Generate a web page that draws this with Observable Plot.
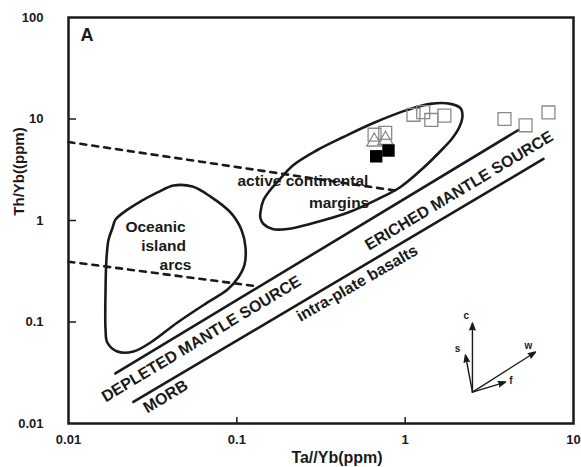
<!DOCTYPE html>
<html><head><meta charset="utf-8">
<script src="https://cdn.jsdelivr.net/npm/d3@7"></script>
<script src="https://cdn.jsdelivr.net/npm/@observablehq/plot@0.6"></script>
<style>
body{margin:0;background:#fff;}
#chart{width:581px;height:467px;}
svg{font-family:Arial,"Liberation Sans",sans-serif;}
</style></head><body><div id="chart"></div>
<script>
// Axis ticks
const xTicks = [0.01, 0.1, 1, 10];
const yTicks = [0.01, 0.1, 1, 10, 100];
const xInnerTicks = [0.1, 1];
const yInnerTicks = [0.1, 1, 10];

// Oceanic island arcs field
const oceanicX = [0.0166,0.0166,0.0168,0.0173,0.0183,0.0190,0.0224,0.0268,0.0338,0.0421,0.0545,0.0698,0.0917,0.1066,0.1126,0.111,0.102,0.0881,0.0670,0.0444,0.0307,0.0243,0.0195,0.0170];
const oceanicY = [0.0843,0.209,0.413,0.650,0.853,1.02,1.28,1.54,1.89,2.21,2.16,1.72,1.20,0.806,0.542,0.365,0.274,0.209,0.156,0.0989,0.0628,0.0512,0.0512,0.0628];

// Active continental margins field
const ellipseX = [0.138,0.144,0.158,0.174,0.217,0.301,0.430,0.648,1.03,1.41,1.86,2.13,2.19,2.10,1.91,1.69,1.28,0.938,0.713,0.454,0.285,0.200,0.163,0.144,0.138];
const ellipseY = [1.19,1.59,2.00,2.40,3.52,4.95,6.65,9.13,12.3,14.1,14.1,12.8,10.7,8.34,6.50,5.18,3.29,2.14,1.67,1.19,0.944,0.824,0.824,0.924,1.06];

// Mantle array boundaries
const mantleUpperX = [0.0190, 4.71];
const mantleUpperY = [0.0311, 7.79];
const mantleLowerX = [0.0243, 6.63];
const mantleLowerY = [0.0163, 4.04];

// Dashed boundaries
const dashUpperX = [0.01, 0.913];
const dashUpperY = [5.93, 1.95];
const dashLowerX = [0.01, 0.129];
const dashLowerY = [0.393, 0.226];

// Samples
const openSqX = [0.658,0.761,1.12,1.28,1.43,1.71,3.89,5.19,7.10];
const openSqY = [7.00,7.31,11.0,11.7,9.78,10.8,10.0,8.67,11.6];
const triX = [0.655,0.764];
const triY = [5.98,6.21];
const filledSqX = [0.673,0.796];
const filledSqY = [4.29,4.89];

// Vector arrows
const arrowOrigin = [2.51, 0.0204];
const arrowNames = ["c","s","w","f"];
const arrowTipX = [2.51, 2.28, 5.95, 3.95];
const arrowTipY = [0.0977, 0.0473, 0.0506, 0.0256];
const arrowLabelX = [2.31, 2.05, 5.40, 4.25];
const arrowLabelY = [0.115, 0.0542, 0.0585, 0.0262];

// Field labels
const flatLabels = ["Oceanic","island","arcs","active continental","margins"];
const flatLabelX = [0.0329,0.0367,0.0432,0.247,0.405];
const flatLabelY = [0.863,0.561,0.365,2.45,1.49];
const slopeLabels = ["DEPLETED MANTLE SOURCE","ERICHED MANTLE SOURCE","MORB","intra-plate basalts"];
const slopeLabelX = [0.0615,2.09,0.0377,0.519];
const slopeLabelY = [0.068,1.96,0.0184,0.240];
const slopeLabelAngle = [-31,-31,-31,-30];

const zip = (xs, ys, extra = {}) => xs.map((x, i) => ({x, y: ys[i], ...Object.fromEntries(Object.entries(extra).map(([k, v]) => [k, v[i]]))}));

const oceanic = zip(oceanicX, oceanicY);
const ellipse = zip(ellipseX, ellipseY);
const arrows = arrowNames.map((n, i) => ({n, x1: arrowOrigin[0], y1: arrowOrigin[1], x2: arrowTipX[i], y2: arrowTipY[i], lx: arrowLabelX[i], ly: arrowLabelY[i]}));
const flat = zip(flatLabelX, flatLabelY, {t: flatLabels});
const sloped = zip(slopeLabelX, slopeLabelY, {t: slopeLabels, a: slopeLabelAngle});

const W = 581, H = 467, ML = 68, MR = 8, MT = 17, MB = 44;
const frameW = W - ML - MR, frameH = H - MT - MB;
const ink = "#1a1a1a";

const plot = Plot.plot({
  width: W, height: H,
  marginLeft: ML, marginRight: MR, marginTop: MT, marginBottom: MB,
  style: {fontFamily: "Arial, 'Liberation Sans', sans-serif", background: "#fff", color: ink},
  x: {type: "log", domain: [0.01, 10], axis: null},
  y: {type: "log", domain: [0.01, 100], axis: null},
  marks: [
    // dashed boundaries
    Plot.line(zip(dashUpperX, dashUpperY), {x: "x", y: "y", stroke: ink, strokeWidth: 2.6, strokeDasharray: "6,6"}),
    Plot.line(zip(dashLowerX, dashLowerY), {x: "x", y: "y", stroke: ink, strokeWidth: 2.6, strokeDasharray: "6,6"}),
    // fields
    Plot.line(oceanic, {x: "x", y: "y", curve: "catmull-rom-closed", stroke: ink, strokeWidth: 2.6}),
    Plot.line(ellipse, {x: "x", y: "y", curve: "catmull-rom-closed", stroke: ink, strokeWidth: 2.6}),
    // mantle array
    Plot.line(zip(mantleUpperX, mantleUpperY), {x: "x", y: "y", stroke: ink, strokeWidth: 2.6}),
    Plot.line(zip(mantleLowerX, mantleLowerY), {x: "x", y: "y", stroke: ink, strokeWidth: 2.6}),
    // samples
    Plot.dot(zip(openSqX, openSqY), {x: "x", y: "y", symbol: "square", r: 7.3, stroke: "#8a8a8a", strokeWidth: 1.3, fill: "none"}),
    Plot.dot(zip(triX, triY), {x: "x", y: "y", symbol: "triangle", r: 5.6, stroke: "#8a8a8a", strokeWidth: 1.3, fill: "none"}),
    Plot.dot(zip(filledSqX, filledSqY), {x: "x", y: "y", symbol: "square", r: 7, fill: "#000", stroke: "none"}),
    // vectors
    Plot.arrow(arrows, {x1: "x1", y1: "y1", x2: "x2", y2: "y2", stroke: ink, fill: ink, strokeWidth: 1.4, headLength: 8, headAngle: 40}),
    Plot.text(arrows, {x: "lx", y: "ly", text: "n", fontSize: 10, fontWeight: "bold", fill: ink}),
    // field labels
    Plot.text(flat, {x: "x", y: "y", text: "t", fontSize: 15.5, fontWeight: "bold", fill: ink}),
    Plot.text(sloped, {x: "x", y: "y", text: "t", rotate: "a", fontSize: 16, fontWeight: "bold", fill: ink}),
    // panel letter
    Plot.text(["A"], {text: d => d, frameAnchor: "top-left", textAnchor: "start", lineAnchor: "middle", dx: 12, dy: 18, fontSize: 18, fontWeight: "bold", fill: ink}),
    // inward ticks
    Plot.tickX(xInnerTicks, {x: d => d, insetTop: frameH - 6, stroke: ink, strokeWidth: 1.5}),
    Plot.tickY(yInnerTicks, {y: d => d, insetRight: frameW - 8, stroke: ink, strokeWidth: 1.5}),
    // tick labels
    Plot.axisX(xTicks, {tickSize: 0, tickPadding: 11, tickFormat: d => String(d), fontSize: 13, fontWeight: "bold", fill: ink}),
    Plot.axisY(yTicks, {tickSize: 0, tickPadding: 25, tickFormat: d => String(d), fontSize: 13, fontWeight: "bold", fill: ink}),
    // axis titles
    Plot.text(["Ta//Yb(ppm)"], {text: d => d, frameAnchor: "bottom", textAnchor: "middle", lineAnchor: "middle", dx: 16, dy: 34, fontSize: 16, fontWeight: "bold", fill: ink}),
    Plot.text(["Th/Yb((ppm)"], {text: d => d, frameAnchor: "left", textAnchor: "middle", lineAnchor: "middle", rotate: -90, dx: -49, dy: -49, fontSize: 15, fontWeight: "bold", fill: ink}),
    Plot.frame({stroke: ink, strokeWidth: 2.5})
  ]
});
document.getElementById("chart").appendChild(plot);
</script>
</body></html>
